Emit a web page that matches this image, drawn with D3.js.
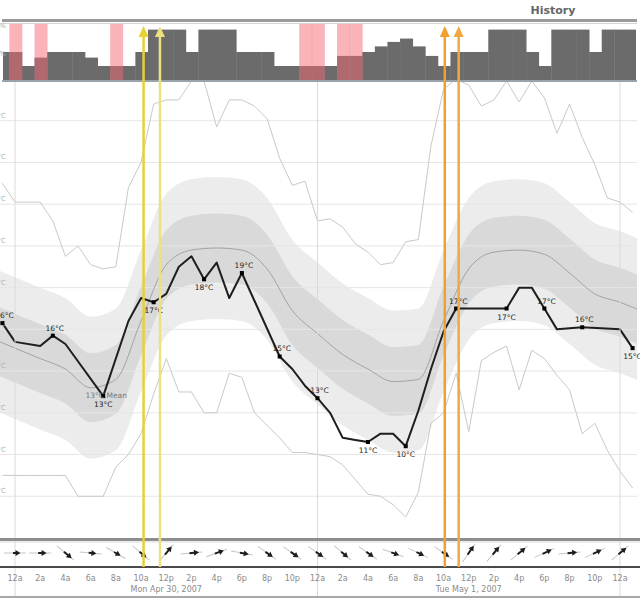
<!DOCTYPE html>
<html>
<head>
<meta charset="utf-8">
<script src="https://cdn.jsdelivr.net/npm/d3@7"></script>
<style>
body { margin: 0; background: #fff; }
text { font-family: "DejaVu Sans", Verdana, sans-serif; }
</style>
</head>
<body>
<div id="chart"></div>
<script>
// hours counted from Mon Apr 30 2007, 12a
var hours = d3.range(-1, 50);
var cloudCover = [50, 50, 25, 40, 50, 50, 50, 40, 25, 25, 25, 50, 90, 90, 90, 50, 90, 90, 90, 50,
    50, 50, 25, 25, 25, 25, 25, 43, 43, 50, 60, 68, 74, 60, 43, 25, 50, 50, 50, 90,
    90, 90, 50, 25, 90, 90, 90, 50, 90, 90, 90];
var recordHigh = [23.0, 22.1, 22.1, 22.1, 21.2, 19.5, 20.0, 19.1, 18.9, 19.0, 22.8, 24.0, 26.8, 27.0, 27.0, 27.9,
    27.9, 25.7, 27.0, 27.0, 26.7, 26.1, 24.2, 22.9, 23.1, 21.2, 21.3, 20.9, 20.1, 19.7, 19.1, 19.2,
    20.2, 20.3, 24.8, 27.5, 28.0, 27.7, 26.7, 27.0, 27.9, 26.9, 27.9, 27.1, 25.4, 26.8, 25.2, 23.9,
    22.3, 22.1, 21.6];
var recordLow = [9.0, 9.0, 9.0, 9.0, 9.0, 9.0, 8.0, 8.0, 8.0, 9.4, 10.0, 11.0, 12.9, 14.6, 13.0, 13.0,
    12.0, 12.0, 13.9, 13.7, 12.0, 11.4, 10.8, 10.1, 10.1, 10.0, 9.9, 9.5, 8.8, 8.1, 8.0, 7.6,
    7.0, 8.2, 11.5, 12.0, 13.9, 11.1, 14.5, 14.9, 15.2, 13.1, 15.0, 14.6, 13.8, 13.1, 11.0, 11.5,
    10.2, 9.2, 8.4];
var rainHours = [0, 2, 8, 23, 24, 26, 27];

var climHours = d3.range(-2, 51, 2);
var climMean = [15.6, 15.1, 14.6, 14.1, 13.2, 13.6, 16.4, 19.1, 19.8, 19.9, 19.8, 18.9, 16.9, 15.8,
    14.8, 14.1, 13.5, 13.6, 16.4, 18.9, 19.7, 19.8, 19.6, 18.7, 17.7, 17.3, 16.8];
var innerSpread = 1.65;
var outerSpread = 3.4;

var tempHours = [-1, 0, 2, 3, 4, 7, 9, 10, 11, 12, 13, 14, 15, 16, 17, 18, 21, 22, 23, 24, 25, 26, 27,
    28, 29, 30, 31, 32, 33, 34, 35, 39, 40, 41, 42, 43, 45, 48, 49];
var tempValues = [16.3, 15.4, 15.2, 15.7, 15.3, 12.8, 16.4, 17.5, 17.3, 17.7, 19.0, 19.5, 18.4, 19.2, 17.5, 18.7,
    14.7, 14.1, 13.3, 12.7, 12.0, 10.8, 10.7, 10.6, 11.0, 11.0, 10.4, 12.1, 14.1, 15.9, 17.0,
    17.0, 18.0, 18.0, 17.0, 16.0, 16.1, 16.0, 15.1];
var labelHours = [-1, 3, 7, 11, 15, 18, 21, 24, 28, 31, 35, 39, 42, 45, 49];
var meanNoteHour = 7;

var windHours = d3.range(0, 49, 2);
var windFrom = [270, 270, 310, 275, 300, 310, 220, 265, 250, 280, 305, 305, 305,
    310, 305, 290, 295, 305, 215, 220, 230, 245, 265, 245, 230];
var windSpeed = [5, 8, 14, 6, 5, 10, 15, 12, 12, 10, 10, 12, 10,
    10, 10, 8, 8, 10, 16, 14, 14, 14, 12, 12, 14];

var tickLabels = ["12a", "2a", "4a", "6a", "8a", "10a", "12p", "2p", "4p", "6p", "8p", "10p",
    "12a", "2a", "4a", "6a", "8a", "10a", "12p", "2p", "4p", "6p", "8p", "10p", "12a"];
var dayLabels = ["Mon Apr 30, 2007", "Tue May 1, 2007"];
var dayNoon = [12, 36];
var gridTemps = d3.range(8, 27, 2);
var markerHours = [10.2, 11.5, 34.1, 35.2];
var markerColors = ["#e6d236", "#ede07e", "#f0a02c", "#f2a840"];

var svgWidth = 640;
var svgHeight = 599;

var svg = d3.select("#chart").append("svg")
    .attr("width", svgWidth).attr("height", svgHeight);

var xScale = d3.scaleLinear().domain([0, 48]).range([15, 620]);
var yScale = d3.scaleLinear().domain([6, 28]).range([538, 79]);
var cloudScale = d3.scaleLinear().domain([0, 100]).range([80, 24]);

var defs = svg.append("defs");
defs.append("clipPath").attr("id", "clipMain").append("rect")
    .attr("x", 0).attr("y", 82).attr("width", 637).attr("height", 456);
defs.append("clipPath").attr("id", "clipTop").append("rect")
    .attr("x", 3).attr("y", 24).attr("width", 633).attr("height", 56);

// header
svg.append("text").attr("x", 553).attr("y", 14).attr("text-anchor", "middle")
    .attr("font-size", 11).attr("font-weight", "bold").attr("fill", "#666").text("History");
svg.append("rect").attr("x", 2).attr("y", 19).attr("width", 635).attr("height", 3).attr("fill", "#9a9a9a");
svg.append("line").attr("x1", 2).attr("x2", 637).attr("y1", 23.5).attr("y2", 23.5)
    .attr("stroke", "#cfd6dc").attr("stroke-width", 1);

// cloud cover panel
var topPanel = svg.append("g").attr("clip-path", "url(#clipTop)");
var cloudData = hours.map(function (h, i) { return {h: h, v: cloudCover[i]}; });
var hw = xScale(1) - xScale(0);
topPanel.selectAll("rect.cloud").data(cloudData).enter().append("rect")
    .attr("class", "cloud")
    .attr("x", function (d) { return xScale(d.h - 0.45); })
    .attr("width", hw + 0.4)
    .attr("y", function (d) { return cloudScale(d.v); })
    .attr("height", function (d) { return cloudScale(0) - cloudScale(d.v); })
    .attr("fill", "#6b6b6b");
topPanel.selectAll("rect.rain").data(rainHours).enter().append("rect")
    .attr("class", "rain")
    .attr("x", function (d) { return xScale(d - 0.45); })
    .attr("width", hw + 0.4)
    .attr("y", cloudScale(100)).attr("height", cloudScale(0) - cloudScale(100))
    .attr("fill", "rgba(246,105,115,0.5)");
svg.selectAll("text.cl").data([100, 50]).enter().append("text")
    .attr("class", "cl")
    .attr("x", 6).attr("y", function (d) { return cloudScale(d) + 4; })
    .attr("text-anchor", "end").attr("font-size", 7).attr("fill", "#aaa")
    .text(function (d) { return d + "%"; });
svg.append("line").attr("x1", 2).attr("x2", 637).attr("y1", 81).attr("y2", 81)
    .attr("stroke", "#9aa2aa").attr("stroke-width", 2);

// main temperature chart
var main = svg.append("g").attr("clip-path", "url(#clipMain)");
var clim = climHours.map(function (h, i) { return {h: h, m: climMean[i]}; });

function band(spread) {
    return d3.area()
        .x(function (d) { return xScale(d.h); })
        .y0(function (d) { return yScale(d.m - spread); })
        .y1(function (d) { return yScale(d.m + spread); })
        .curve(d3.curveMonotoneX);
}
main.append("path").datum(clim).attr("d", band(outerSpread)).attr("fill", "#ececec");
main.append("path").datum(clim).attr("d", band(innerSpread)).attr("fill", "#d9d9d9");

main.selectAll("line.grid").data(gridTemps).enter().append("line")
    .attr("class", "grid")
    .attr("x1", 0).attr("x2", 640)
    .attr("y1", function (d) { return yScale(d); })
    .attr("y2", function (d) { return yScale(d); })
    .attr("stroke", "#e6e6e6").attr("stroke-width", 1);

var recLine = d3.line()
    .x(function (d) { return xScale(d.h); })
    .y(function (d) { return yScale(d.v); });
[recordHigh, recordLow].forEach(function (series) {
    main.append("path")
        .datum(hours.map(function (h, i) { return {h: h, v: series[i]}; }))
        .attr("d", recLine)
        .attr("fill", "none").attr("stroke", "#c9c9c9").attr("stroke-width", 1);
});

main.append("path").datum(clim)
    .attr("d", d3.line()
        .x(function (d) { return xScale(d.h); })
        .y(function (d) { return yScale(d.m); })
        .curve(d3.curveMonotoneX))
    .attr("fill", "none").attr("stroke", "#a3a3a3").attr("stroke-width", 1);

// midnight lines
svg.selectAll("line.day").data([0, 24, 48]).enter().append("line")
    .attr("class", "day")
    .attr("x1", function (d) { return xScale(d); })
    .attr("x2", function (d) { return xScale(d); })
    .attr("y1", 82).attr("y2", 597)
    .attr("stroke", "#dadada").attr("stroke-width", 1);

svg.selectAll("text.ylab").data(gridTemps).enter().append("text")
    .attr("class", "ylab")
    .attr("x", 6).attr("y", function (d) { return yScale(d) - 3; })
    .attr("text-anchor", "end").attr("font-size", 7).attr("fill", "#b4b4b4")
    .text(function (d) { return d + "°C"; });

// temperature
var temp = tempHours.map(function (h, i) { return {h: h, v: tempValues[i], i: i}; });
main.append("path").datum(temp)
    .attr("d", recLine)
    .attr("fill", "none").attr("stroke", "#1e1e1e").attr("stroke-width", 2)
    .attr("stroke-linejoin", "round");

var labelled = temp.filter(function (d) { return labelHours.indexOf(d.h) >= 0; });
function isLow(d) {
    var prev = tempValues[d.i - 1], next = tempValues[d.i + 1];
    return (prev === undefined || d.v <= prev) && (next === undefined || d.v <= next);
}
svg.selectAll("rect.pt").data(labelled).enter().append("rect")
    .attr("class", "pt")
    .attr("x", function (d) { return xScale(d.h) - 2; })
    .attr("y", function (d) { return yScale(d.v) - 2; })
    .attr("width", 4).attr("height", 4).attr("fill", "#000");

var meanAt = d3.scaleLinear().domain(climHours).range(climMean);
var noteT = tempValues[tempHours.indexOf(meanNoteHour)];
svg.append("text")
    .attr("x", xScale(meanNoteHour) + 3).attr("y", yScale(noteT) + 2)
    .attr("text-anchor", "middle").attr("font-size", 7.5).attr("fill", "#777")
    .text(Math.round(meanAt(meanNoteHour)) + "°C Mean");

svg.selectAll("text.pl").data(labelled).enter().append("text")
    .attr("class", "pl")
    .attr("x", function (d) { return xScale(d.h) + (isLow(d) ? 0 : 2); })
    .attr("y", function (d) { return yScale(d.v) + (isLow(d) ? 11 : -5); })
    .attr("text-anchor", "middle").attr("font-size", 7.5).attr("fill", "#222")
    .text(function (d) { return Math.round(d.v) + "°C"; });

// wind strip and time axis
svg.append("rect").attr("x", 0).attr("y", 538).attr("width", 640).attr("height", 3).attr("fill", "#8e8e8e");
svg.append("line").attr("x1", 0).attr("x2", 640).attr("y1", 542).attr("y2", 542)
    .attr("stroke", "#d6dbe0").attr("stroke-width", 1);

var wind = svg.append("g").selectAll("g")
    .data(windHours.map(function (h, i) { return {h: h, from: windFrom[i], speed: windSpeed[i]}; }))
    .enter().append("g")
    .attr("transform", function (d) {
        return "translate(" + xScale(d.h) + ",553) rotate(" + (d.from + 90) + ")";
    });
wind.append("line").attr("x1", -11).attr("x2", 11).attr("y1", 0).attr("y2", 0)
    .attr("stroke", "#c6c6c6").attr("stroke-width", 1);
wind.append("line").attr("x1", -2).attr("y1", 0).attr("y2", 0)
    .attr("x2", function (d) { return 1 + d.speed * 0.3; })
    .attr("stroke", "#1e1e1e").attr("stroke-width", 2);
wind.append("path")
    .attr("d", function (d) {
        var L = 4 + d.speed * 0.3;
        return "M" + L + ",0L" + (L - 5) + ",-3L" + (L - 5) + ",3Z";
    })
    .attr("fill", "#1e1e1e");

svg.append("line").attr("x1", 0).attr("x2", 640).attr("y1", 567).attr("y2", 567)
    .attr("stroke", "#4a4a4a").attr("stroke-width", 2);

svg.selectAll("text.tick").data(tickLabels).enter().append("text")
    .attr("class", "tick")
    .attr("x", function (d, i) { return xScale(i * 2); }).attr("y", 581)
    .attr("text-anchor", "middle").attr("font-size", 8).attr("fill", "#8a8a8a")
    .text(function (d) { return d; });
svg.selectAll("text.dayl").data(dayLabels).enter().append("text")
    .attr("class", "dayl")
    .attr("x", function (d, i) { return xScale(dayNoon[i]); }).attr("y", 592)
    .attr("text-anchor", "middle").attr("font-size", 8).attr("fill", "#8a8a8a")
    .text(function (d) { return d; });
svg.append("line").attr("x1", 0).attr("x2", 640).attr("y1", 597).attr("y2", 597)
    .attr("stroke", "#a8a8a8").attr("stroke-width", 2);

// vertical marker arrows
var marks = svg.append("g").selectAll("g")
    .data(markerHours.map(function (h, i) { return {h: h, c: markerColors[i]}; }))
    .enter().append("g");
marks.append("line")
    .attr("x1", function (d) { return xScale(d.h); })
    .attr("x2", function (d) { return xScale(d.h); })
    .attr("y1", 567).attr("y2", 34)
    .attr("stroke", function (d) { return d.c; }).attr("stroke-width", 2.5);
marks.append("path")
    .attr("d", function (d) {
        var x = xScale(d.h);
        return "M" + x + ",26L" + (x - 5) + ",37L" + (x + 5) + ",37Z";
    })
    .attr("fill", function (d) { return d.c; });
</script>
</body>
</html>
